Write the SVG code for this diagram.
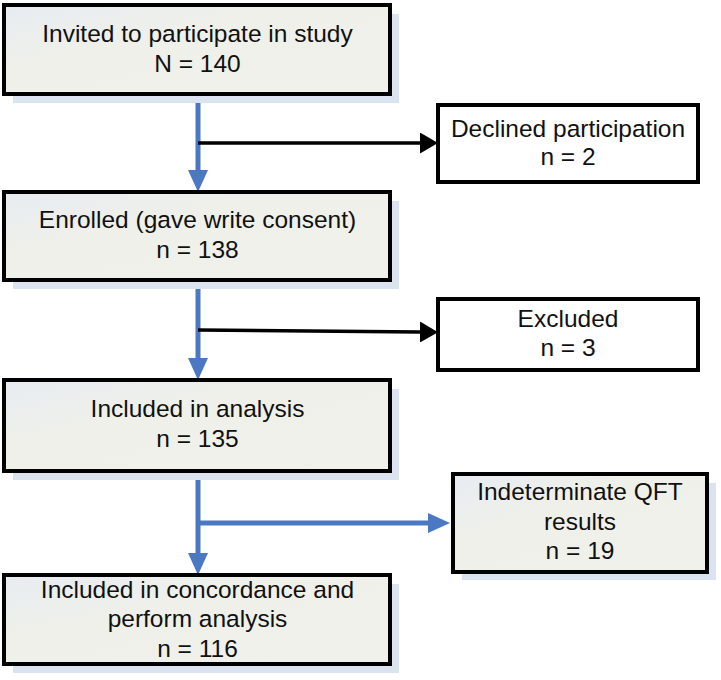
<svg xmlns="http://www.w3.org/2000/svg" width="721" height="680" viewBox="0 0 721 680">
<style>
.t{font-family:"Liberation Sans",Arial,sans-serif;font-size:24.5px;fill:#111;text-anchor:middle}
.box{fill:url(#g);stroke:#000;stroke-width:4}
.wbox{fill:#fff;stroke:#000;stroke-width:4}
.sh{fill:#dbe3f1}
.blue{stroke:#4a78c2;stroke-width:5;fill:none}
.blk{stroke:#000;stroke-width:3.5;fill:none}
</style>
<defs>
<linearGradient id="g" x1="0" y1="0" x2="1" y2="1">
<stop offset="0" stop-color="#e7ecf2"/>
<stop offset="0.35" stop-color="#eff0ea"/>
<stop offset="1" stop-color="#f1f1eb"/>
</linearGradient>
<marker id="ab" markerUnits="userSpaceOnUse" markerWidth="22" markerHeight="20" refX="0" refY="10" orient="auto" viewBox="0 0 22 20">
<path d="M0,0 L22,10 L0,20 z" fill="#4a78c2"/>
</marker>
<marker id="ak" markerUnits="userSpaceOnUse" markerWidth="18" markerHeight="21" refX="0" refY="10.5" orient="auto" viewBox="0 0 18 21">
<path d="M0,0 L18,10.5 L0,21 z" fill="#000"/>
</marker>
</defs>
<rect width="721" height="680" fill="#fff"/>
<g id="connectors">
<line class="blue" x1="198" y1="94" x2="198" y2="170" marker-end="url(#ab)"/>
<line class="blk" x1="198" y1="143" x2="420" y2="143" marker-end="url(#ak)"/>
<line class="blue" x1="198" y1="280" x2="198" y2="358" marker-end="url(#ab)"/>
<line class="blk" x1="198" y1="330" x2="420" y2="332" marker-end="url(#ak)"/>
<line class="blue" x1="198" y1="471" x2="198" y2="553" marker-end="url(#ab)"/>
<line class="blue" x1="198" y1="523" x2="428" y2="523" marker-end="url(#ab)"/>
</g>
<g id="invited">
<rect class="sh" x="13" y="14" width="386" height="89"/>
<rect class="box" x="4" y="5" width="386" height="89"/>
<text class="t" x="197.5" y="42">Invited to participate in study</text>
<text class="t" x="197.5" y="72">N = 140</text>
</g>
<g id="declined">
<rect class="wbox" x="438" y="105" width="260" height="77"/>
<text class="t" x="568" y="137">Declined participation</text>
<text class="t" x="568" y="165">n = 2</text>
</g>
<g id="enrolled">
<rect class="sh" x="13" y="201" width="386" height="88"/>
<rect class="box" x="4" y="192" width="386" height="88"/>
<text class="t" x="197.5" y="228">Enrolled (gave write consent)</text>
<text class="t" x="197.5" y="258">n = 138</text>
</g>
<g id="excluded">
<rect class="wbox" x="438" y="299" width="260" height="71"/>
<text class="t" x="568" y="327">Excluded</text>
<text class="t" x="568" y="356">n = 3</text>
</g>
<g id="included">
<rect class="sh" x="13" y="389" width="386" height="91"/>
<rect class="box" x="4" y="380" width="386" height="91"/>
<text class="t" x="197.5" y="417">Included in analysis</text>
<text class="t" x="197.5" y="447">n = 135</text>
</g>
<g id="indeterminate">
<rect class="sh" x="462" y="483" width="254" height="97"/>
<rect class="box" x="453" y="474" width="254" height="98"/>
<text class="t" x="580" y="500">Indeterminate QFT</text>
<text class="t" x="580" y="530">results</text>
<text class="t" x="580" y="559">n = 19</text>
</g>
<g id="concordance">
<rect class="sh" x="13" y="584" width="386" height="89"/>
<rect class="box" x="4" y="575" width="386" height="89"/>
<text class="t" x="197.5" y="598">Included in concordance and</text>
<text class="t" x="197.5" y="627">perform analysis</text>
<text class="t" x="197.5" y="657">n = 116</text>
</g>
</svg>
